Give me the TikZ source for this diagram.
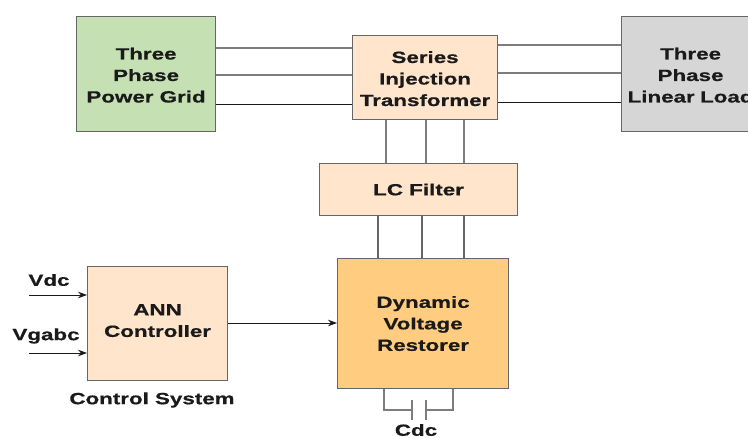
\documentclass[tikz,border=0pt]{standalone}
\usepackage{fontspec}
\setmainfont[FakeStretch=1.38,FakeBold=0.6]{Liberation Sans}
\usetikzlibrary{arrows.meta}
\definecolor{gridgreen}{HTML}{C5E0B3}
\definecolor{peach}{HTML}{FFE5CC}
\definecolor{loadgray}{HTML}{D6D6D6}
\definecolor{dvrorange}{HTML}{FFCC80}
\definecolor{edge}{HTML}{666666}
\definecolor{ink}{HTML}{1A1A1A}
\tikzset{
  blockbox/.style={draw=edge,line width=1.1pt,inner sep=0pt,anchor=north west,align=center,
    text=ink,font=\fontsize{16.2}{21.5}\selectfont\bfseries},
  lab/.style={inner sep=0pt,text=ink,font=\fontsize{16.2}{21.5}\selectfont\bfseries},
  wire/.style={draw=edge!85,line width=1.1pt},
  darkwire/.style={draw=ink,line width=0.8pt},
  feed/.style={draw=ink,line width=0.8pt,-{Stealth[length=9pt,width=6.5pt]}},
}
\begin{document}
\begin{tikzpicture}[x=1pt,y=-1pt]
\useasboundingbox (0,0) rectangle (748,438);
\clip (0,0) rectangle (748,438);
\node[blockbox,fill=gridgreen,minimum width=139pt,minimum height=115pt] (grid) at (76,16) {\rule{0pt}{14pt}Three\\Phase\\Power Grid};
\node[blockbox,fill=peach,minimum width=145pt,minimum height=84pt] (trafo) at (352,35) {\rule{0pt}{14pt}Series\\Injection\\Transformer};
\node[blockbox,fill=loadgray,minimum width=140pt,minimum height=115pt,text width=140pt] (load) at (621,16) {\hspace*{-2pt}\rule{0pt}{14pt}Three\\\hspace*{-2pt}Phase\\\hspace*{-2pt}Linear Load};
\node[blockbox,fill=peach,minimum width=198pt,minimum height=52pt] (lc) at (319,163) {LC Filter};
\node[blockbox,fill=dvrorange,minimum width=171pt,minimum height=130pt] (dvr) at (337,258) {Dynamic\\Voltage\\Restorer};
\node[blockbox,fill=peach,minimum width=140pt,minimum height=114pt] (ann) at (87,266) {ANN\\Controller\rule[-6pt]{0pt}{6pt}};
\node[lab] (vdc) at (49,280) {Vdc};
\node[lab] (vgabc) at (46,336) {Vgabc};
\node[lab] (cs) at (152,400) {Control System};
\node[lab] (cdc) at (416,430) {Cdc};
% levels
\coordinate (a1) at (0,48); \coordinate (a2) at (0,75); \coordinate (a3) at (0,104);
\coordinate (b1) at (0,45); \coordinate (b2) at (0,73); \coordinate (b3) at (0,102);
\coordinate (c1) at (386,0); \coordinate (c2) at (426,0); \coordinate (c3) at (464,0);
\coordinate (d1) at (378,0); \coordinate (d2) at (422,0); \coordinate (d3) at (464,0);
\coordinate (e) at (0,323);
\coordinate (vs1) at (29,295); \coordinate (vs2) at (29,353);
\draw[wire] (grid.east |- a1) -- (trafo.west |- a1);
\draw[wire] (grid.east |- a2) -- (trafo.west |- a2);
\draw[darkwire] (grid.east |- a3) -- (trafo.west |- a3);
\draw[wire] (trafo.east |- b1) -- (load.west |- b1);
\draw[wire] (trafo.east |- b2) -- (load.west |- b2);
\draw[darkwire] (trafo.east |- b3) -- (load.west |- b3);
\foreach \n in {1,2,3} {
  \draw[wire] (c\n |- trafo.south) -- (c\n |- lc.north);
  \draw[wire,draw=edge] (d\n |- lc.south) -- (d\n |- dvr.north);
}
\draw[feed] (ann.east |- e) -- (dvr.west |- e);
\draw[feed] (vs1) -- (ann.west |- vs1);
\draw[feed] (vs2) -- (ann.west |- vs2);
% capacitor
\coordinate (capl) at (384,410); \coordinate (capr) at (453,410);
\coordinate (pl) at (412,410); \coordinate (pr) at (426,410);
\draw[wire] (capl |- dvr.south) -- (capl) -- (pl);
\draw[wire] (capr |- dvr.south) -- (capr) -- (pr);
\draw[wire] (412,400) -- (412,420);
\draw[wire] (426,400) -- (426,420);
\end{tikzpicture}
\end{document}
